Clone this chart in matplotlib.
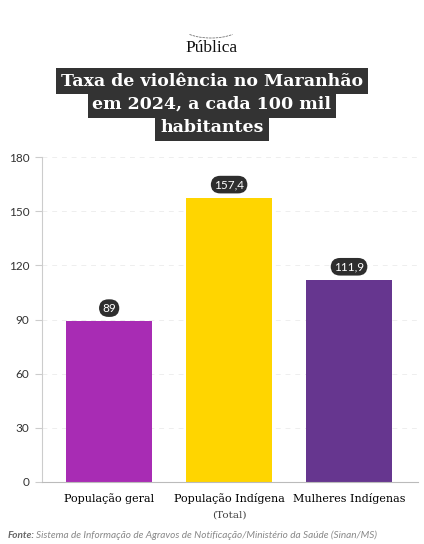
import numpy as np
import matplotlib.pyplot as plt
from matplotlib.patches import Arc

CATEGORIES = ['População geral', 'População Indígena', 'Mulheres Indígenas']
SUBLABELS = ['', '(Total)', '']
VALUES = [89, 157.4, 111.9]
VALUE_LABELS = ['89', '157,4', '111,9']
COLORS = ['#A82CB4', '#FFD500', '#66368F']
YTICKS = [0, 30, 60, 90, 120, 150, 180]
TITLE_LINES = ['Taxa de violência no Maranhão', 'em 2024, a cada 100 mil', 'habitantes']
SOURCE = 'Sistema de Informação de Agravos de Notificação/Ministério da Saúde (Sinan/MS)'

W, H = 424, 544
fig = plt.figure(figsize=(W / 100, H / 100), dpi=100)
fig.patch.set_facecolor('white')

ax = fig.add_axes([42 / W, 1 - 482 / H, (418 - 42) / W, (482 - 157) / H])
x = np.arange(len(VALUES))
ax.bar(x, VALUES, width=0.72, color=COLORS, zorder=2)
ax.set_xlim(-0.56, 2.575)
ax.set_ylim(0, 180)
ax.set_yticks(YTICKS)
ax.set_yticklabels([str(t) for t in YTICKS], fontsize=8.5, color='#333333', family='Lato')
ax.set_xticks([])
ax.grid(axis='y', color='#eeeeee', linestyle=(0, (5, 5)), linewidth=0.7, zorder=0)
for s in ['top', 'right']:
    ax.spines[s].set_visible(False)
ax.spines['left'].set_color('#cccccc')
ax.spines['bottom'].set_color('#bbbbbb')
ax.tick_params(axis='y', length=5, color='#cccccc', pad=4)

# value labels in dark rounded boxes
for xi, v, lab in zip(x, VALUES, VALUE_LABELS):
    ax.annotate(lab, (xi, v), xytext=(0, 9.5), textcoords='offset points',
                ha='center', va='center', fontsize=8.5, color='white', family='Lato',
                bbox=dict(boxstyle='round,pad=0.28,rounding_size=0.8', fc='#2e2e2e', ec='none'))

# category labels
for xi, cat, sub in zip(x, CATEGORIES, SUBLABELS):
    ax.annotate(cat, (xi, 0), xytext=(0, -12), textcoords='offset points', ha='center',
                va='center', fontsize=8, color='#000000', family='DejaVu Serif')
    if sub:
        ax.annotate(sub, (xi, 0), xytext=(0, -24), textcoords='offset points', ha='center',
                    va='center', fontsize=7.5, color='#444444', family='DejaVu Serif')

# title with per-line dark boxes
for i, line in enumerate(TITLE_LINES):
    fig.text(0.5, 1 - (81 + i * 23.5) / H, line, ha='center', va='center', fontsize=12.5,
             color='white', family='DejaVu Serif', weight='bold',
             bbox=dict(boxstyle='square,pad=0.28', fc='#333333', ec='none'))

# logo
fig.text(0.5, 1 - 48 / H, 'Pública', ha='center', va='center', fontsize=12.5,
         color='#111111', family='Liberation Serif')
fig.patches.append(Arc((211 / W, 1 - 27 / H), 58 / W, 22 / H, theta1=195, theta2=345,
                       transform=fig.transFigure, color='#777777', lw=0.6, linestyle=(0, (3, 1))))

# source
fig.text(8 / W, 1 - 535 / H, 'Fonte:', ha='left', va='center', fontsize=7.2, color='#666666',
         family='Lato', style='italic', weight='bold')
fig.text(36 / W, 1 - 535 / H, SOURCE, ha='left', va='center', fontsize=7.2, color='#888888',
         family='Lato', style='italic')

fig.savefig('out.png', dpi=100, facecolor='white')
